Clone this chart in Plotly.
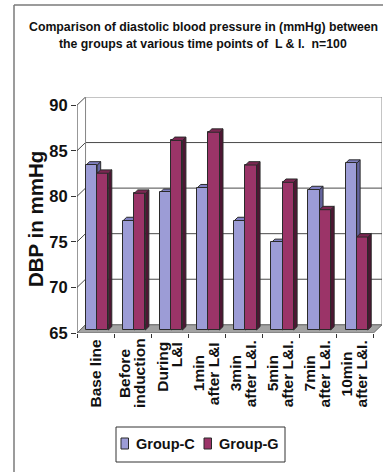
import plotly.graph_objects as go

# ---- data -------------------------------------------------------------
categories = ["Base line", "Before induction", "During L&I", "1min after L&I",
              "3min after L&I.", "5min after L&I.", "7min after L&I.", "10min after L&I."]
category_lines = [["Base line"], ["Before", "induction"], ["During", "L&I"],
                  ["1min", "after L&I"], ["3min", "after L&I."], ["5min", "after L&I."],
                  ["7min", "after L&I."], ["10min", "after L&I."]]
group_c = [83.1, 77.0, 80.1, 80.6, 77.0, 74.6, 80.4, 83.3]
group_g = [82.2, 80.0, 85.8, 86.7, 83.1, 81.2, 78.2, 75.2]
series_names = ["Group-C", "Group-G"]
y_ticks = [65, 70, 75, 80, 85, 90]
title_lines = ["Comparison of diastolic blood pressure in (mmHg) between",
               "the groups at various time points of  L & I.  n=100"]
y_title = "DBP in mmHg"

# ---- styling / geometry -------------------------------------------------
W, H = 383, 472
ML, MR, MT, MB = 77, 1, 97, 139
PW, PH = W - ML - MR, H - MT - MB

Y0, Y1 = y_ticks[0], y_ticks[-1]
DX, DY = 0.23, 0.9          # depth of the floor, in axis units (x, y)
F, G = 0.37, 0.41           # bar front offset / bar depth, as fractions of the floor depth
BAR_W = 0.3
N = len(categories)

ARIAL = "Liberation Sans, Arial, sans-serif"
EDGE = "#2a2a2a"

face_cols = {
    "Group-C": dict(front="#9c9cd6", top="#8080c2", side="#64649e"),
    "Group-G": dict(front="#9b3468", top="#7c2652", side="#4e1633"),
}


def px_x(p):
    return (p - ML) / PW


def px_y(p):
    return (H - MB - p) / PH


def poly(points):
    return "M " + " L ".join(f"{x:.4f},{y:.4f}" for x, y in points) + " Z"


shapes = []


def add_poly(points, fill, layer, line_color=EDGE, width=1):
    shapes.append(dict(type="path", path=poly(points), xref="x", yref="y",
                       fillcolor=fill, line=dict(color=line_color, width=width),
                       layer=layer))


def add_line(x0, y0, x1, y1, color="#555555", width=1, layer="below"):
    shapes.append(dict(type="line", x0=x0, y0=y0, x1=x1, y1=y1, xref="x", yref="y",
                       line=dict(color=color, width=width), layer=layer))


xl, xr = -0.5, N - 0.5

# back wall with its gridlines
add_poly([(xl + DX, Y0 + DY), (xr + DX, Y0 + DY), (xr + DX, Y1 + DY), (xl + DX, Y1 + DY)],
         "#ffffff", "below", line_color="#8a8a8a")
for v in y_ticks[1:-1]:
    add_line(xl + DX, v + DY, xr + DX, v + DY, color="#4a4a4a")
# left wall gridlines (diagonals from the front axis to the back wall)
for v in y_ticks:
    add_line(xl, v, xl + DX, v + DY, color="#4a4a4a")
add_line(xl + DX, Y0 + DY, xl + DX, Y1 + DY, color="#8a8a8a")
# floor
add_poly([(xl, Y0), (xr, Y0), (xr + DX, Y0 + DY), (xl + DX, Y0 + DY)],
         "#a3a3a3", "below", line_color="#6a6a6a")
# front vertical axis line
add_line(xl, Y0, xl, Y1, color="#333333")

# bar side/top faces (Group-C under the traces, Group-G above them)
base = Y0 + F * DY
offsets = {"Group-C": -0.34, "Group-G": -0.04}
for name, vals, layer in (("Group-C", group_c, "below"), ("Group-G", group_g, "above")):
    cols = face_cols[name]
    for i, v in enumerate(vals):
        x0 = i + offsets[name] + F * DX
        x1 = x0 + BAR_W
        top = v + F * DY
        add_poly([(x1, base), (x1, top), (x1 + G * DX, top + G * DY), (x1 + G * DX, base + G * DY)],
                 cols["side"], layer)
        add_poly([(x0, top), (x1, top), (x1 + G * DX, top + G * DY), (x0 + G * DX, top + G * DY)],
                 cols["top"], layer)

fig = go.Figure()
for name, vals in (("Group-C", group_c), ("Group-G", group_g)):
    fig.add_trace(go.Bar(
        name=name,
        x=[i + offsets[name] + F * DX + BAR_W / 2 for i in range(N)],
        y=[v - Y0 for v in vals],
        base=base,
        width=BAR_W,
        marker=dict(color=face_cols[name]["front"], line=dict(color=EDGE, width=1)),
        showlegend=False,
    ))

# outer chart frame
shapes.append(dict(type="line", xref="paper", yref="paper", x0=px_x(14), y0=px_y(5),
                   x1=px_x(14), y1=px_y(H + 2), line=dict(color="#7a7a7a", width=1.5)))
shapes.append(dict(type="line", xref="paper", yref="paper", x0=px_x(14), y0=px_y(5),
                   x1=px_x(W + 2), y1=px_y(5), line=dict(color="#7a7a7a", width=1.5)))

annotations = []
# title, one annotation per line
for line, cy in zip(title_lines, (27, 44)):
    annotations.append(dict(text=line, xref="paper", yref="paper",
                            x=px_x(203), y=px_y(cy), xanchor="center", yanchor="middle",
                            showarrow=False,
                            font=dict(family=ARIAL, size=12.3, color="#111111", weight="bold")))
# y axis title
annotations.append(dict(text=y_title, xref="paper", yref="paper", x=px_x(35), y=px_y(219),
                        xanchor="center", yanchor="middle", textangle=-90, showarrow=False,
                        font=dict(family=ARIAL, size=20.5, color="#111111", weight="bold")))
# category labels, rotated, one annotation per text line
for i, lines in enumerate(category_lines):
    n = len(lines)
    for k, line in enumerate(lines):
        shift = (k - (n - 1) / 2) * 15 - 0.5
        top_aligned = lines[0] == "During"
        annotations.append(dict(
            text=line, xref="x", yref="paper", x=i, xshift=shift,
            y=px_y(340) if top_aligned else px_y(373.5),
            yanchor="top" if top_aligned else "middle", xanchor="center",
            textangle=-90, showarrow=False,
            font=dict(family=ARIAL, size=15.5, color="#111111", weight="bold")))

# legend box
lg_x0, lg_x1, lg_y0, lg_y1 = 116, 285, 427, 462
shapes.append(dict(type="rect", xref="paper", yref="paper", x0=px_x(lg_x0), x1=px_x(lg_x1),
                   y0=px_y(lg_y1), y1=px_y(lg_y0), line=dict(color="#333333", width=1),
                   fillcolor="#ffffff"))
for name, sw_x in zip(series_names, (121, 204)):
    shapes.append(dict(type="rect", xref="paper", yref="paper", x0=px_x(sw_x), x1=px_x(sw_x + 7.5),
                       y0=px_y(449), y1=px_y(438), line=dict(color=EDGE, width=1),
                       fillcolor=face_cols[name]["front"]))
    annotations.append(dict(text=name, xref="paper", yref="paper", x=px_x(sw_x + 12.5),
                            y=px_y(444), xanchor="left", yanchor="middle", showarrow=False,
                            font=dict(family=ARIAL, size=14.5, color="#111111", weight="bold")))

fig.update_layout(
    width=W, height=H, autosize=False,
    margin=dict(l=ML, r=MR, t=MT, b=MB, pad=0),
    paper_bgcolor="#ffffff", plot_bgcolor="#ffffff",
    barmode="overlay", bargap=0,
    shapes=shapes, annotations=annotations,
    xaxis=dict(range=[xl, xr + DX], showgrid=False, zeroline=False, showticklabels=False,
               tickmode="array", tickvals=[i - 0.5 for i in range(N + 1)],
               ticks="outside", ticklen=4, tickcolor="#333333", showline=False, fixedrange=True),
    yaxis=dict(range=[Y0, Y1 + DY], showgrid=False, zeroline=False, showline=False,
               tickmode="array", tickvals=y_ticks, ticks="outside", ticklen=5,
               tickcolor="#333333",
               tickfont=dict(family=ARIAL, size=16.5, color="#111111", weight="bold"),
               fixedrange=True),
    showlegend=False,
)

fig.write_html("out.html")
